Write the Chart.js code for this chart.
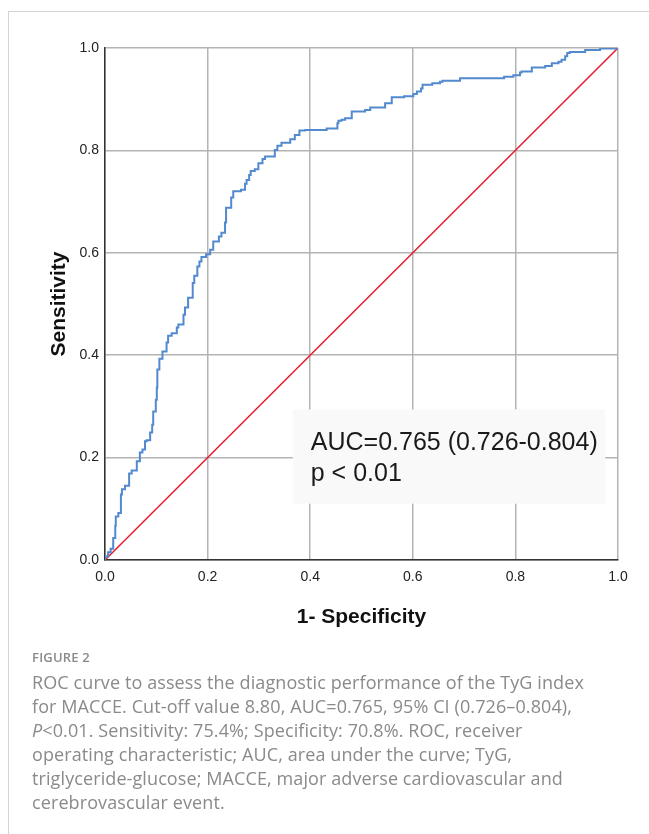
<!DOCTYPE html>
<html>
<head>
<meta charset="utf-8">
<script src="https://cdn.jsdelivr.net/npm/chart.js@4.4.1/dist/chart.umd.min.js"></script>
<style>
  body { margin: 0; background: #fff; width: 649px; height: 834px; overflow: hidden; position: relative; }
  .frame { position: absolute; left: 8px; top: 11px; width: 660px; height: 840px;
           border-top: 1px solid #d4d4d4; border-left: 1px solid #d4d4d4; }
  #wrap { position: absolute; left: 0; top: 0; width: 649px; height: 650px; }
  .cap { position: absolute; left: 32px; top: 647px; width: 615px; color: #8a8a8a;
         font-family: "Open Sans", sans-serif; }
  .cap .fig { font-size: 13px; font-weight: 600; letter-spacing: 0.2px; line-height: 20px; margin-bottom: 3px; }
  .cap .txt { font-size: 18px; line-height: 24px; white-space: nowrap; letter-spacing: 0.1px; }
</style>
</head>
<body>
<div class="frame"></div>
<div id="wrap"><canvas id="roc"></canvas></div>
<div class="cap">
  <div class="fig">FIGURE 2</div>
  <div class="txt">ROC curve to assess the diagnostic performance of the TyG index<br>for MACCE. Cut-off value 8.80, AUC=0.765, 95% CI (0.726&ndash;0.804),<br><i>P</i>&lt;0.01. Sensitivity: 75.4%; Specificity: 70.8%. ROC, receiver<br>operating characteristic; AUC, area under the curve; TyG,<br>triglyceride-glucose; MACCE, major adverse cardiovascular and<br>cerebrovascular event.</div>
</div>
<script>
// ROC curve (1 - specificity, sensitivity)
const fpr = [0, 0.006, 0.011, 0.016, 0.020, 0.021, 0.026, 0.031, 0.033, 0.039, 0.047, 0.052, 0.062, 0.068,
  0.073, 0.078, 0.081, 0.088, 0.092, 0.094, 0.099, 0.101, 0.102, 0.106, 0.112, 0.120, 0.123, 0.130,
  0.140, 0.143, 0.153, 0.156, 0.162, 0.171, 0.174, 0.180, 0.184, 0.188, 0.197, 0.205, 0.211, 0.222,
  0.227, 0.234, 0.236, 0.246, 0.250, 0.265, 0.273, 0.276, 0.281, 0.284, 0.292, 0.299, 0.307, 0.312,
  0.331, 0.336, 0.344, 0.361, 0.370, 0.379, 0.390, 0.432, 0.453, 0.455, 0.461, 0.468, 0.481, 0.507,
  0.517, 0.546, 0.559, 0.583, 0.601, 0.608, 0.616, 0.619, 0.638, 0.653, 0.658, 0.692, 0.778, 0.796,
  0.809, 0.812, 0.832, 0.858, 0.871, 0.884, 0.890, 0.897, 0.901, 0.906, 0.936, 0.965, 0.997, 1];
const tpr = [0, 0.007, 0.015, 0.022, 0.043, 0.067, 0.085, 0.092, 0.128, 0.138, 0.145, 0.169, 0.175, 0.193,
  0.210, 0.216, 0.232, 0.234, 0.249, 0.264, 0.290, 0.313, 0.337, 0.372, 0.393, 0.407, 0.425, 0.438,
  0.443, 0.454, 0.460, 0.479, 0.493, 0.512, 0.541, 0.555, 0.573, 0.583, 0.592, 0.597, 0.606, 0.622,
  0.632, 0.639, 0.659, 0.688, 0.708, 0.720, 0.723, 0.735, 0.742, 0.752, 0.760, 0.763, 0.775, 0.783,
  0.788, 0.801, 0.809, 0.815, 0.822, 0.830, 0.839, 0.840, 0.843, 0.853, 0.858, 0.860, 0.863, 0.876,
  0.879, 0.884, 0.892, 0.904, 0.906, 0.910, 0.915, 0.921, 0.928, 0.931, 0.934, 0.936, 0.941, 0.944,
  0.947, 0.952, 0.954, 0.962, 0.965, 0.970, 0.973, 0.977, 0.984, 0.990, 0.992, 0.996, 0.999, 1];
// reference diagonal
const refX = [0, 1];
const refY = [0, 1];
const tickValues = [0, 0.2, 0.4, 0.6, 0.8, 1.0];
const aucLines = ['AUC=0.765 (0.726-0.804)', 'p < 0.01'];

const toPoints = (xs, ys) => xs.map((x, i) => ({ x: x, y: ys[i] }));

// grey box with the AUC text, placed in data units of the axes
const aucBox = {
  id: 'aucBox',
  beforeDatasetsDraw(chart) {
    const { ctx, scales: { x, y } } = chart;
    const left = x.getPixelForValue(0.366), right = x.getPixelForValue(0.975);
    const top = y.getPixelForValue(0.294), bottom = y.getPixelForValue(0.110);
    ctx.save();
    ctx.fillStyle = '#f9f9f9';
    ctx.fillRect(left, top, right - left, bottom - top);
    ctx.fillStyle = '#1a1a1a';
    ctx.font = '25px "Liberation Sans", Arial, sans-serif';
    ctx.textBaseline = 'alphabetic';
    ctx.fillText(aucLines[0], left + 18, top + 41);
    ctx.fillText(aucLines[1], left + 18, top + 72);
    ctx.restore();
  }
};

var ctx = document.getElementById('roc').getContext('2d');
var rocChart = new Chart(ctx, {
  type: 'scatter',
  data: {
    datasets: [{
      data: toPoints(fpr, tpr),
      showLine: true,
      stepped: 'after',
      borderColor: '#5289cf',
      borderWidth: 2,
      pointRadius: 0,
      fill: false
    }, {
      data: toPoints(refX, refY),
      showLine: true,
      borderColor: '#e8192c',
      borderWidth: 1.5,
      pointRadius: 0,
      fill: false
    }]
  },
  options: {
    responsive: true,
    maintainAspectRatio: false,
    animation: false,
    layout: { padding: { left: 0, right: 31, top: 48, bottom: 0 } },
    plugins: { legend: { display: false }, tooltip: { enabled: false } },
    scales: {
      x: {
        type: 'linear', min: 0, max: 1,
        afterFit: s => { s.height = 90; },
        afterBuildTicks: s => { s.ticks = tickValues.map(v => ({ value: v })); },
        ticks: { padding: 9, color: '#222', font: { family: '"Liberation Sans", Arial', size: 14 },
                 callback: v => v.toFixed(1) },
        grid: { color: '#b4b4b4', lineWidth: 1.5, drawTicks: false },
        border: { color: '#333', width: 1.5 },
        title: { display: true, text: '1- Specificity', color: '#111',
                 font: { family: '"Liberation Sans", Arial', size: 21, weight: 'bold' },
                 padding: { top: 0, bottom: 20 } }
      },
      y: {
        type: 'linear', min: 0, max: 1,
        afterFit: s => { s.width = 105; },
        afterBuildTicks: s => { s.ticks = tickValues.map(v => ({ value: v })); },
        ticks: { padding: 6, color: '#222', font: { family: '"Liberation Sans", Arial', size: 14 },
                 callback: v => v.toFixed(1) },
        grid: { color: '#b4b4b4', lineWidth: 1.5, drawTicks: false },
        border: { color: '#333', width: 1.5 },
        title: { display: true, text: 'Sensitivity', color: '#111',
                 font: { family: '"Liberation Sans", Arial', size: 21, weight: 'bold' },
                 padding: { top: 47, bottom: 0 } }
      }
    }
  },
  plugins: [aucBox]
});
</script>
</body>
</html>
